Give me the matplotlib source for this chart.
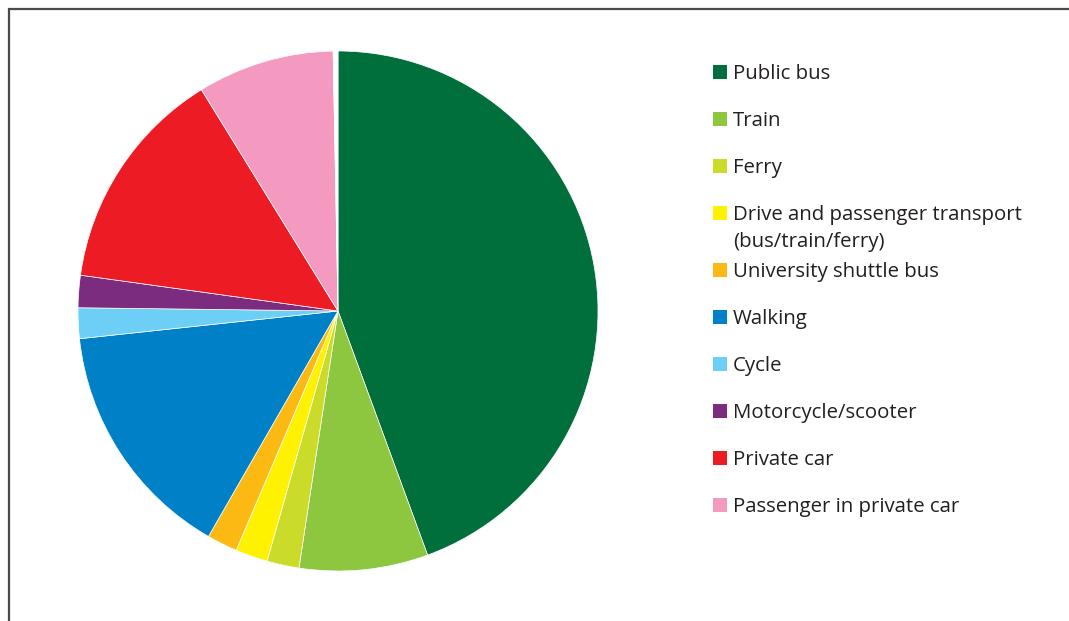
import matplotlib.pyplot as plt
from matplotlib.patches import Rectangle

# share of trips by travel mode (%), clockwise from 12 o'clock
modes = ['Public bus', 'Train', 'Ferry',
         'Drive and passenger transport\n(bus/train/ferry)',
         'University shuttle bus', 'Walking', 'Cycle',
         'Motorcycle/scooter', 'Private car', 'Passenger in private car']
shares = [44.4, 8.0, 2.0, 2.0, 1.9, 15.0, 1.9, 2.0, 14.0, 8.5]
other_share = 0.3  # unlabelled remainder, drawn blank

colors = ['#006f3b', '#8dc63f', '#cbdb2a', '#fff200', '#fdb913',
          '#0080c6', '#6dcff6', '#7b2c7e', '#ed1c24', '#f49ac1']

W, H = 1069, 621
fig = plt.figure(figsize=(W / 100, H / 100), dpi=100)

# outer frame, only the top and left edges fall inside the image
fig.add_artist(Rectangle((9 / W, -0.2), 2, 1 - 9 / H + 0.2,
                         transform=fig.transFigure, fill=False,
                         edgecolor='#4a4a4a', linewidth=1.6))

cx, cy, r, pad = 338, 311, 260, 10
ax = fig.add_axes([(cx - r - pad) / W, (H - cy - r - pad) / H,
                   2 * (r + pad) / W, 2 * (r + pad) / H])

ax.pie(shares + [other_share], colors=colors + ['white'],
       startangle=90, counterclock=False, radius=1,
       wedgeprops=dict(edgecolor='white', linewidth=0.5))

# pie() resets the limits, so set them afterwards
lim = (r + pad) / r
ax.set_xlim(-lim, lim)
ax.set_ylim(-lim, lim)
ax.set_aspect('equal')
ax.axis('off')

# legend down the right-hand side
ys = [72, 119, 166, 213, 270, 317, 364, 411, 458, 505]
for label, col, y in zip(modes, colors, ys):
    fig.add_artist(Rectangle((713 / W, 1 - (y + 7) / H), 14 / W, 14 / H,
                             transform=fig.transFigure, facecolor=col,
                             edgecolor='none'))
    fig.text(733 / W, 1 - (y - 8) / H, label, ha='left', va='top',
             fontsize=14.7, family='Open Sans', color='#231f20',
             linespacing=1.45)

fig.savefig('out.png', dpi=100)
